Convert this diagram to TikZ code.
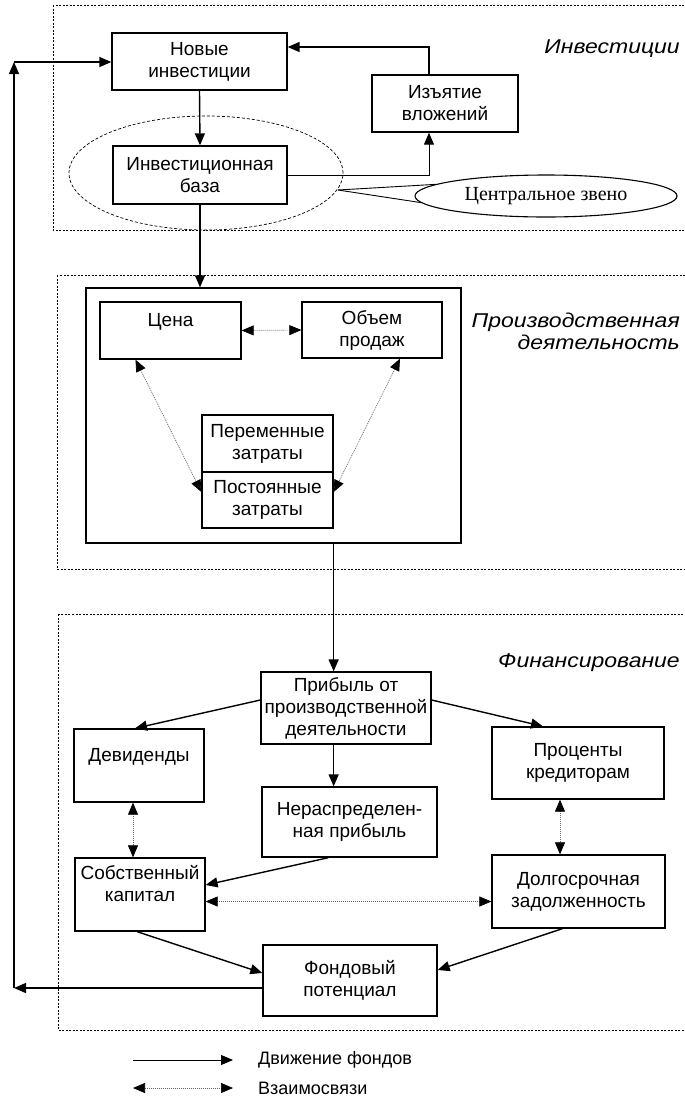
\documentclass[tikz,border=0pt]{standalone}
\usepackage{fontspec}
\setmainfont{Liberation Sans}
\newfontfamily\serifcz{Liberation Serif}
\newfontfamily\lblfont[FakeStretch=1.15]{Liberation Sans Italic}
\usetikzlibrary{arrows.meta,shapes.geometric}
\tikzset{
 box/.style={draw, line width=1.3pt, align=center, inner sep=0pt, font=\fontsize{19}{22}\selectfont},
 flow/.style={line width=1.4pt, -{Triangle[length=12pt,width=10pt]}},
 rel/.style={line width=0.7pt, black!60, dash pattern=on 1pt off 1pt,
   {Triangle[length=12pt,width=10pt,color=black]}-{Triangle[length=12pt,width=10pt,color=black]}},
 frame/.style={line width=0.8pt, dash pattern=on 2pt off 1.5pt},
 lbl/.style={font=\lblfont\fontsize{20}{22}\selectfont, align=right, anchor=east, inner sep=0pt},
 legtxt/.style={anchor=west, inner sep=0pt, font=\fontsize{18}{22}\selectfont},
}
\begin{document}
\begin{tikzpicture}[x=1pt,y=-1pt]
\useasboundingbox (0,0) rectangle (685,1096);
\clip (0,0) rectangle (685,1096);
% frames
\draw[frame] (53,5) rectangle (700,230);
\draw[frame] (57,275) rectangle (700,569);
\draw[frame] (58,614) rectangle (700,1030);
% labels
\node[lbl] (linv) at (680,49) {Инвестиции};
\node[lbl] (lprod) at (680,331) {Производственная\\деятельность};
\node[lbl] (lfin) at (680,663) {Финансирование};
% investments
\node[draw, ellipse, line width=0.7pt, dash pattern=on 3pt off 2pt, minimum width=274pt, minimum height=114pt, inner sep=0pt] (core) at (206,173) {};
\node[box, minimum width=175pt, minimum height=57pt] (novye) at (199.5,61.5) {Новые\\инвестиции};
\node[box, minimum width=146pt, minimum height=57pt] (izyat) at (445,103.5) {Изъятие\\вложений};
\node[box, minimum width=174pt, minimum height=58pt] (baza) at (200,175) {Инвестиционная\\база};
\node[draw, ellipse, line width=1.1pt, minimum width=262pt, minimum height=42pt, inner sep=0pt, font=\serifcz\fontsize{20}{22}\selectfont] (cz) at (546,196) {Центральное звено};
\coordinate (wa) at (338,190);
\draw[line width=0.9pt] (wa) -- (cz.174);
\draw[line width=0.9pt] (wa) -- (cz.183);
\coordinate (ct) at (429,47);
\draw[flow] (izyat.north -| ct) -- (ct) -- (ct -| novye.east);
\draw[flow] (novye.south) -- (baza.north);
\draw[flow, line width=0.9pt] (baza.east) -| (izyat.south -| ct);
% production
\node[draw, line width=1.3pt, minimum width=375pt, minimum height=255pt, inner sep=0pt] (inner) at (273.5,415.5) {};
\node[box, minimum width=141pt, minimum height=57pt] (cena) at (170.5,330.5) {Цена\\\mbox{}};
\node[box, minimum width=140pt, minimum height=56pt] (obem) at (372,330) {Объем\\продаж};
\node[box, minimum width=131pt, minimum height=57pt] (perem) at (267.5,443.5) {Переменные\\затраты};
\node[box, minimum width=131pt, minimum height=56pt] (post) at (267.5,500) {Постоянные\\затраты};
\draw[flow] (baza.south) -- (baza.south |- inner.north);
\draw[rel] (cena.east) -- (obem.west);
\draw[rel] ([xshift=-35pt]cena.south) -- ([yshift=8pt]post.west);
\draw[rel] ([xshift=28pt]obem.south) -- ([yshift=8pt]post.east);
% financing
\node[box, minimum width=170pt, minimum height=72pt] (pribyl) at (346,708) {Прибыль от\\производственной\\деятельности};
\node[box, minimum width=130pt, minimum height=73pt] (div) at (139,765.5) {Девиденды\\\mbox{}};
\node[box, minimum width=172pt, minimum height=72pt] (proc) at (578,763) {Проценты\\кредиторам};
\node[box, minimum width=175pt, minimum height=70pt] (neras) at (349.5,822) {Нераспределен-\\ная прибыль};
\node[box, minimum width=130pt, minimum height=73pt] (sobst) at (140,894.5) {Собственный\\капитал\\\mbox{}};
\node[box, minimum width=173pt, minimum height=73pt] (dolg) at (578.5,891.5) {Долгосрочная\\задолженность};
\node[box, minimum width=174pt, minimum height=71pt] (fond) at (350,980.5) {Фондовый\\потенциал};
\draw[flow] (inner.south -| perem.east) -- (pribyl.north -| perem.east);
\draw[flow] ([yshift=8pt]pribyl.west) -- ([xshift=-4pt]div.north);
\draw[flow] ([yshift=8pt]pribyl.east) -- ([xshift=-35pt]proc.north);
\draw[flow] (pribyl.south -| perem.east) -- (neras.north -| perem.east);
\draw[rel] ([xshift=-6pt]div.south) -- ([xshift=-6pt]div.south |- sobst.north);
\draw[rel] ([xshift=-18pt]proc.south) -- ([xshift=-18pt]proc.south |- dolg.north);
\draw[flow] ([xshift=-21pt]neras.south) -- ([yshift=9.5pt]sobst.east);
\draw[rel] ([yshift=-7pt]sobst.east) -- ([yshift=-7pt]sobst.east -| dolg.west);
\draw[flow] ([xshift=-3pt]sobst.south) -- ([yshift=7.5pt]fond.west);
\draw[flow] ([xshift=-16pt]dolg.south) -- ([yshift=10.5pt]fond.east);
% feedback loop
\coordinate (lb) at (14,988);
\coordinate (lt) at (14,62);
\draw[flow] ([yshift=-7.5pt]fond.west) -- (lb);
\draw[flow] (lb) -- (lt);
\draw[flow] (lt) -- (lt -| novye.west);
% legend
\coordinate (la1) at (133,1060);
\coordinate (la2) at (233,1060);
\coordinate (lb1) at (133,1088);
\coordinate (lb2) at (233,1088);
\draw[flow, line width=0.9pt] (la1) -- (la2);
\draw[rel] (lb1) -- (lb2);
\node[legtxt] (lt1) at (258,1060) {Движение фондов};
\node[legtxt] (lt2) at (258,1088) {Взаимосвязи};
\end{tikzpicture}
\end{document}
